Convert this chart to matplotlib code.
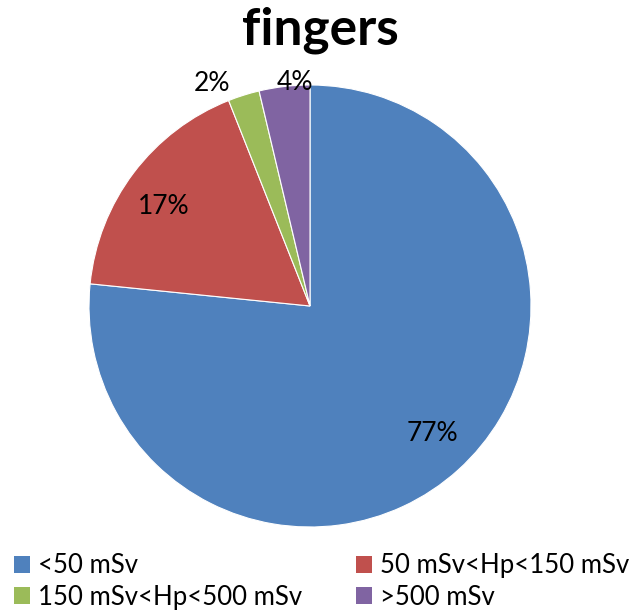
import matplotlib
matplotlib.use("Agg")
import numpy as np
import matplotlib.pyplot as plt
from matplotlib.patches import Patch

plt.rcParams["font.family"] = ["Lato", "DejaVu Sans"]

labels = ["<50 mSv", "50 mSv<Hp<150 mSv", "150 mSv<Hp<500 mSv", ">500 mSv"]
shares = [76.6, 17.4, 2.3, 3.7]
pct_text = ["77%", "17%", "2%", "4%"]
colors = ["#4F81BD", "#C0504D", "#9BBB59", "#8064A2"]
# label placement: radius (fraction of pie radius) and angular nudge in degrees
label_r = [0.80, 0.80, 1.10, 1.015]
label_nudge = [1.5, 2.7, 6.2, -2.9]

W, H = 629, 610
fig = plt.figure(figsize=(W / 100, H / 100), dpi=100)
cx, cy, r = 310, 306, 221
ax = fig.add_axes([(cx - r) / W, (H - cy - r) / H, 2 * r / W, 2 * r / H])

wedges, _ = ax.pie(shares, colors=colors, startangle=90, counterclock=False,
                   wedgeprops=dict(edgecolor="white", linewidth=0.8))
ax.set_xlim(-1, 1)
ax.set_ylim(-1, 1)
ax.set_aspect("equal")

for w, txt, rr, dn in zip(wedges, pct_text, label_r, label_nudge):
    mid = np.deg2rad((w.theta1 + w.theta2) / 2 + dn)
    ax.text(rr * np.cos(mid), rr * np.sin(mid), txt, ha="center", va="center",
            fontsize=19, color="black")

fig.text(320 / W, 1 - 30 / H, "fingers", ha="center", va="center",
         fontsize=37, fontweight="bold")

# legend fills row by row: reorder for matplotlib's column-major layout
order = [0, 2, 1, 3]
handles = [Patch(facecolor=colors[i], edgecolor="none") for i in order]
fig.legend(handles, [labels[i] for i in order], ncol=2, loc="lower left",
           bbox_to_anchor=(3.6 / W, -0.0164), frameon=False, fontsize=18.5,
           handlelength=0.62, handleheight=0.62, handletextpad=0.31,
           columnspacing=2.1, labelspacing=0.25, borderaxespad=0.0)

fig.savefig("out.png", dpi=100)
